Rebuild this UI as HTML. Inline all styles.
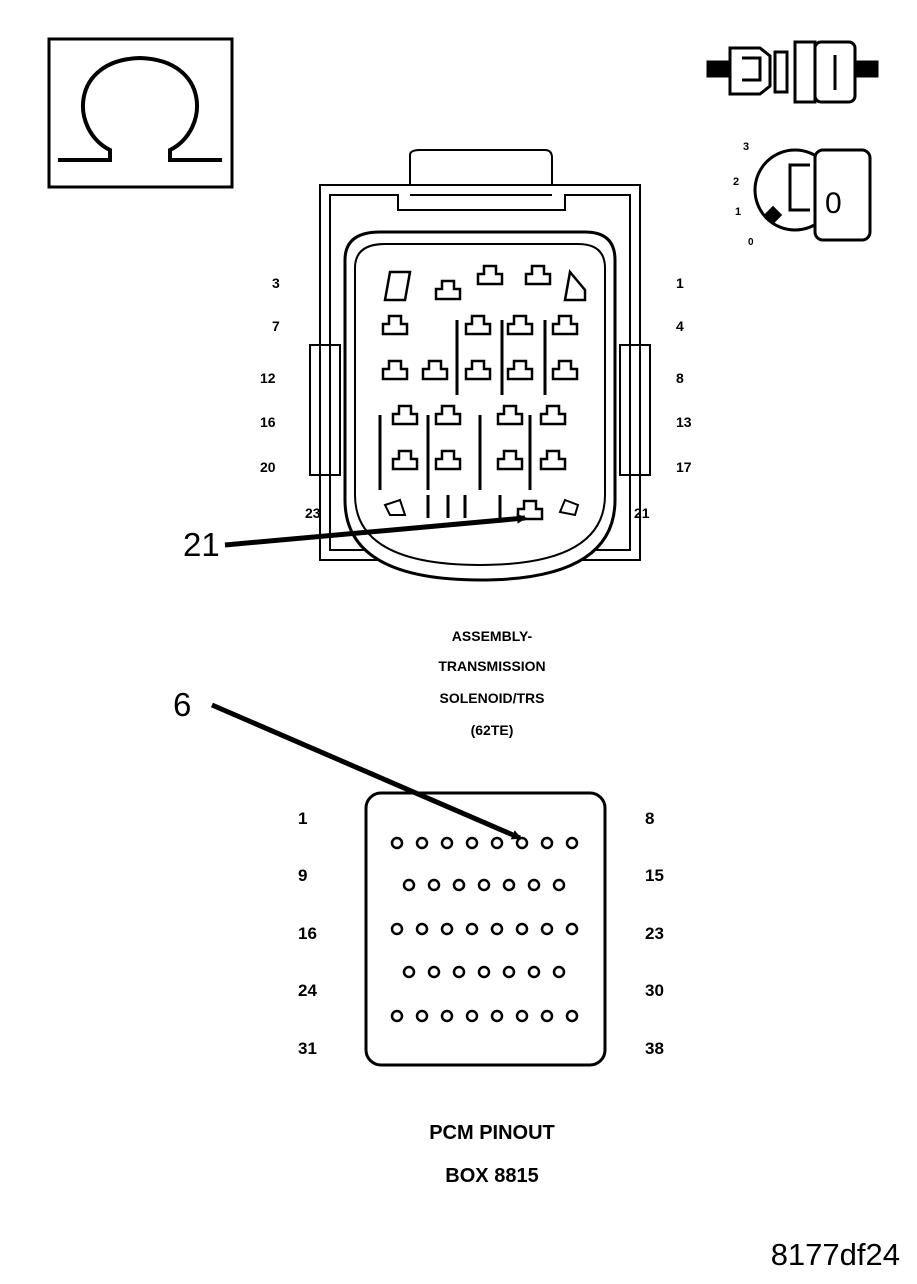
<!DOCTYPE html>
<html><head><style>body{margin:0;background:#fff}svg{display:block}text{font-family:"Liberation Sans",Arial,sans-serif;fill:#000}</style></head><body>
<svg width="917" height="1284" viewBox="0 0 917 1284" xmlns="http://www.w3.org/2000/svg">
<defs>
<g id="pin"><path d="M-6,-14 h12 v8 h6 v10 h-24 v-10 h6 z" fill="#fff" stroke="#000" stroke-width="2.5"/></g>
<marker id="ah" markerWidth="10" markerHeight="10" refX="8" refY="5" orient="auto" markerUnits="userSpaceOnUse"><path d="M0,0 L10,5 L0,10 z" fill="#000"/></marker>
</defs>
<!-- omega box -->
<rect x="49" y="39" width="183" height="148" fill="none" stroke="#000" stroke-width="3"/>
<path d="M58,160 H110 L110,150 C70,130 70,60 140,58 C210,60 210,130 170,150 L170,160 H222" fill="none" stroke="#000" stroke-width="4"/>
<!-- connector icon top right -->
<g stroke="#000" stroke-width="3" fill="#fff">
<rect x="708" y="62" width="22" height="14" fill="#000"/>
<path d="M730,48 h30 l10,8 v30 l-10,8 h-30 z"/>
<path d="M742,58 h18 v22 h-18" fill="none"/>
<rect x="775" y="52" width="12" height="40"/>
<rect x="795" y="42" width="20" height="60"/>
<rect x="815" y="42" width="40" height="60" rx="6"/>
<line x1="835" y1="55" x2="835" y2="90"/>
<rect x="855" y="62" width="22" height="14" fill="#000"/>
</g>
<!-- ignition key -->
<g stroke="#000" stroke-width="3" fill="#fff">
<circle cx="795" cy="190" r="40"/>
<rect x="815" y="150" width="55" height="90" rx="8"/>
<path d="M810,165 h-20 v45 h20" fill="none"/>
<rect x="768" y="210" width="10" height="10" fill="#000" transform="rotate(45 773 215)"/>
</g>
<text x="825" y="213" font-size="30">0</text>
<text x="743" y="150" font-size="11" font-weight="bold">3</text>
<text x="733" y="185" font-size="11" font-weight="bold">2</text>
<text x="735" y="215" font-size="11" font-weight="bold">1</text>
<text x="748" y="245" font-size="10" font-weight="bold">0</text>
<!-- connector housing -->
<g fill="none" stroke="#000" stroke-width="2">
<path d="M320,185 H410 V155 Q410,150 420,150 H545 Q552,150 552,158 V185 H640 V560 H320 Z"/>
<path d="M330,195 H398 V210 H565 V195 H630 V550 H330 Z"/>
<line x1="410" y1="185" x2="552" y2="185"/>
<line x1="410" y1="195" x2="552" y2="195"/>
<rect x="310" y="345" width="30" height="130"/>
<rect x="620" y="345" width="30" height="130"/>
<path d="M345,260 Q345,232 380,232 H585 Q615,232 615,260 V500 Q615,580 480,580 Q345,580 345,500 Z" stroke-width="3" fill="#fff"/>
<path d="M355,268 Q355,244 385,244 H578 Q605,244 605,268 V495 Q605,565 480,565 Q355,565 355,495 Z" stroke-width="2"/>
</g>
<g>
<use href="#pin" x="448" y="295"/><use href="#pin" x="490" y="280"/><use href="#pin" x="538" y="280"/>
<use href="#pin" x="395" y="330"/><use href="#pin" x="478" y="330"/><use href="#pin" x="520" y="330"/><use href="#pin" x="565" y="330"/>
<use href="#pin" x="395" y="375"/><use href="#pin" x="435" y="375"/><use href="#pin" x="478" y="375"/><use href="#pin" x="520" y="375"/><use href="#pin" x="565" y="375"/>
<use href="#pin" x="405" y="420"/><use href="#pin" x="448" y="420"/><use href="#pin" x="510" y="420"/><use href="#pin" x="553" y="420"/>
<use href="#pin" x="405" y="465"/><use href="#pin" x="448" y="465"/><use href="#pin" x="510" y="465"/><use href="#pin" x="553" y="465"/>
<use href="#pin" x="530" y="515"/>
</g>
<g stroke="#000" stroke-width="3">
<line x1="380" y1="415" x2="380" y2="490"/><line x1="428" y1="415" x2="428" y2="490"/><line x1="480" y1="415" x2="480" y2="490"/><line x1="530" y1="415" x2="530" y2="490"/>
<line x1="457" y1="320" x2="457" y2="395"/><line x1="502" y1="320" x2="502" y2="395"/><line x1="545" y1="320" x2="545" y2="395"/>
<line x1="428" y1="495" x2="428" y2="518"/><line x1="448" y1="495" x2="448" y2="518"/><line x1="465" y1="495" x2="465" y2="518"/><line x1="500" y1="495" x2="500" y2="518"/>
</g>
<path d="M390,272 L410,272 L405,300 L385,300 Z" fill="#fff" stroke="#000" stroke-width="2.5"/>
<path d="M570,272 L585,290 L585,300 L565,300 Z" fill="#fff" stroke="#000" stroke-width="2.5"/>
<path d="M385,505 L400,500 L405,515 L390,515 Z" fill="#fff" stroke="#000" stroke-width="2"/>
<path d="M565,500 L578,505 L575,515 L560,512 Z" fill="#fff" stroke="#000" stroke-width="2"/>
<g font-size="14" font-weight="bold">
<text x="272" y="288">3</text><text x="272" y="331">7</text><text x="260" y="383">12</text><text x="260" y="427">16</text><text x="260" y="472">20</text><text x="305" y="518">23</text>
<text x="676" y="288">1</text><text x="676" y="331">4</text><text x="676" y="383">8</text><text x="676" y="427">13</text><text x="676" y="472">17</text><text x="634" y="518">21</text>
</g>
<text x="183" y="556" font-size="33">21</text>
<line x1="225" y1="545" x2="525" y2="518" stroke="#000" stroke-width="5" marker-end="url(#ah)"/>
<g font-size="14" font-weight="bold" text-anchor="middle">
<text x="492" y="641">ASSEMBLY-</text><text x="492" y="671">TRANSMISSION</text><text x="492" y="703">SOLENOID/TRS</text><text x="492" y="735">(62TE)</text>
</g>
<text x="173" y="716" font-size="33">6</text>
<line x1="212" y1="705" x2="520" y2="838" stroke="#000" stroke-width="5" marker-end="url(#ah)"/>
<rect x="366" y="793" width="239" height="272" rx="15" fill="none" stroke="#000" stroke-width="3"/>
<g fill="none" stroke="#000" stroke-width="2.5">
<g id="r8"><circle cx="397" cy="843" r="5"/><circle cx="422" cy="843" r="5"/><circle cx="447" cy="843" r="5"/><circle cx="472" cy="843" r="5"/><circle cx="497" cy="843" r="5"/><circle cx="522" cy="843" r="5"/><circle cx="547" cy="843" r="5"/><circle cx="572" cy="843" r="5"/></g>
<g id="r7"><circle cx="409" cy="885" r="5"/><circle cx="434" cy="885" r="5"/><circle cx="459" cy="885" r="5"/><circle cx="484" cy="885" r="5"/><circle cx="509" cy="885" r="5"/><circle cx="534" cy="885" r="5"/><circle cx="559" cy="885" r="5"/></g>
<use href="#r8" y="86"/><use href="#r7" y="87"/><use href="#r8" y="173"/>
</g>
<g font-size="17" font-weight="bold">
<text x="298" y="824">1</text><text x="298" y="881">9</text><text x="298" y="939">16</text><text x="298" y="996">24</text><text x="298" y="1054">31</text>
<text x="645" y="824">8</text><text x="645" y="881">15</text><text x="645" y="939">23</text><text x="645" y="996">30</text><text x="645" y="1054">38</text>
</g>
<g font-size="20" font-weight="bold" text-anchor="middle">
<text x="492" y="1139">PCM PINOUT</text><text x="492" y="1182">BOX 8815</text>
</g>
<text x="900" y="1265" font-size="31" text-anchor="end">8177df24</text>
</svg>
</body></html>
